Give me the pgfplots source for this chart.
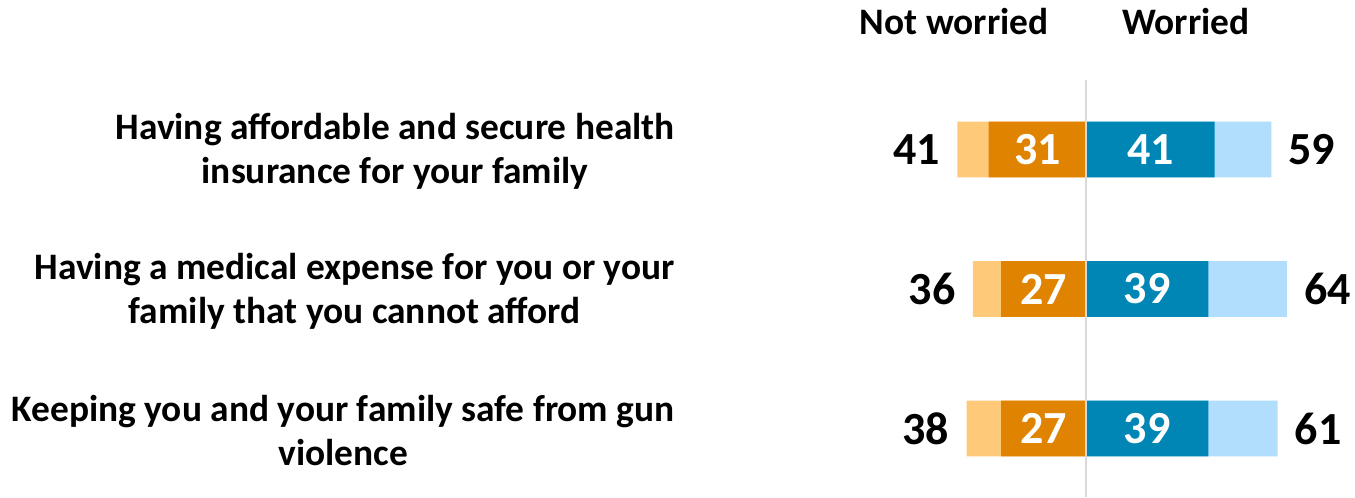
\documentclass[border=0pt]{standalone}
\usepackage{pgfplots}
\pgfplotsset{compat=1.18}
\usepackage{pgfplotstable}
\usepackage{fontspec}
\setmainfont{Carlito}
\definecolor{lorange}{RGB}{255,201,122}
\definecolor{dorange}{RGB}{224,131,0}
\definecolor{dblue}{RGB}{0,134,180}
\definecolor{lblue}{RGB}{176,222,252}
\definecolor{cline}{RGB}{217,217,217}

\pgfplotstableread{
row nw nwstrong w wstrong
0 41 31 59 41
1 36 27 64 39
2 38 27 61 39
}\data

\begin{document}
\begin{tikzpicture}
\begin{axis}[
 x=1.57pt, y=69.75pt, y dir=reverse,
 xmin=-70, xmax=85.67, ymin=-0.498, ymax=2.491,
 hide axis, clip=false,
]
\path (axis cs:-345.9,-1.0717) rectangle (axis cs:85.67,2.491);
\draw[cline, line width=1pt] (axis cs:0,-0.498) -- (axis cs:0,2.491);
\addplot[xbar, bar width=27.8pt, bar shift=0pt, fill=lorange, draw=none] table[x expr=-\thisrow{nw}, y=row] \data;
\addplot[xbar, bar width=27.8pt, bar shift=0pt, fill=dorange, draw=none] table[x expr=-\thisrow{nwstrong}, y=row] \data;
\addplot[xbar, bar width=27.8pt, bar shift=0pt, fill=lblue, draw=none] table[x=w, y=row] \data;
\addplot[xbar, bar width=27.8pt, bar shift=0pt, fill=dblue, draw=none] table[x=wstrong, y=row] \data;
\draw[cline, line width=1pt] (axis cs:0,-0.498) -- (axis cs:0,2.491);
% outer labels
\addplot[draw=none, mark=none, nodes near coords, point meta=explicit symbolic,
  every node near coord/.append style={anchor=east, inner sep=0pt, xshift=-8.6pt, text=black, font=\bfseries\fontsize{23}{27}\selectfont}]
  table[x expr=-\thisrow{nw}, y=row, meta=nw] \data;
\addplot[draw=none, mark=none, nodes near coords, point meta=explicit symbolic,
  every node near coord/.append style={anchor=west, inner sep=0pt, xshift=8.5pt, text=black, font=\bfseries\fontsize{23}{27}\selectfont}]
  table[x=w, y=row, meta=w] \data;
% inner labels
\addplot[draw=none, mark=none, nodes near coords, point meta=explicit symbolic,
  every node near coord/.append style={anchor=center, inner sep=0pt, text=white, font=\bfseries\fontsize{23}{27}\selectfont}]
  table[x expr=-\thisrow{nwstrong}/2, y=row, meta=nwstrong] \data;
\addplot[draw=none, mark=none, nodes near coords, point meta=explicit symbolic,
  every node near coord/.append style={anchor=center, inner sep=0pt, text=white, font=\bfseries\fontsize{23}{27}\selectfont}]
  table[x expr=\thisrow{wstrong}/2, y=row, meta=wstrong] \data;
% headers
\node[font=\bfseries\fontsize{18.7}{22}\selectfont] at (axis cs:-42,-0.914) {Not worried};
\node[font=\bfseries\fontsize{18.7}{22}\selectfont] at (axis cs:31.8,-0.914) {Worried};
% category labels
\begin{scope}[every node/.style={anchor=east, inner sep=0pt, yshift=-1pt, align=center, font=\bfseries\fontsize{18.7}{22}\selectfont}]
\node at (axis cs:-130.9,0) {Having affordable and secure health\\insurance for your family};
\node at (axis cs:-130.9,1) {Having a medical expense for you or your\\family that you cannot afford};
\node at (axis cs:-130.9,2) {Keeping you and your family safe from gun\\violence};
\end{scope}
\end{axis}
\end{tikzpicture}
\end{document}
